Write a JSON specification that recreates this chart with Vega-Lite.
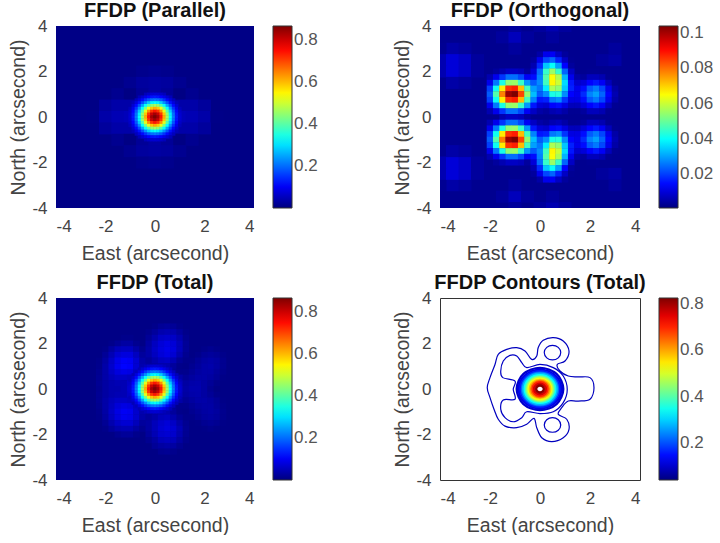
{"$schema":"https://vega.github.io/schema/vega-lite/v6.json","background":"white","padding":{"left":8,"top":1,"right":0,"bottom":0},"bounds":"flush","columns":2,"spacing":{"row":90,"column":186},
"config":{"font":"Liberation Sans","view":{"stroke":null},"axisX":{"labelPadding":10,"titlePadding":10},"axisY":{"labelPadding":9,"titlePadding":3.5},"axis":{"grid":false,"domain":false,"ticks":false,"labelFont":"Liberation Sans","titleFont":"Liberation Sans","labelFontSize":17,"titleFontSize":19.5,"titleFontWeight":"normal","labelColor":"#444444","titleColor":"#444444","titleAnchor":"middle","values":[-4,-2,0,2,4],"labelExpr":"''+datum.value"},"title":{"font":"Liberation Sans","fontSize":20,"fontWeight":"bold","color":"#111111","offset":-4},"legend":{"gradientLength":182,"gradientThickness":19,"gradientStrokeColor":"#333333","gradientStrokeWidth":1,"labelFont":"Liberation Sans","labelFontSize":17,"labelColor":"#555555","labelOffset":8,"offset":19,"padding":0,"title":null}},
"datasets":{
"core":[
{"x":-0.375,"y":1,"v":0.05},{"x":-0.25,"y":1,"v":0.061},{"x":-0.125,"y":1,"v":0.069},{"x":0,"y":1,"v":0.071},{"x":0.125,"y":1,"v":0.069},{"x":0.25,"y":1,"v":0.061},{"x":0.375,"y":1,"v":0.05},
{"x":-0.625,"y":0.875,"v":0.048},{"x":-0.5,"y":0.875,"v":0.069},{"x":-0.375,"y":0.875,"v":0.09},{"x":-0.25,"y":0.875,"v":0.11},{"x":-0.125,"y":0.875,"v":0.123},{"x":0,"y":0.875,"v":0.128},{"x":0.125,"y":0.875,"v":0.123},{"x":0.25,"y":0.875,"v":0.11},{"x":0.375,"y":0.875,"v":0.09},{"x":0.5,"y":0.875,"v":0.069},{"x":0.625,"y":0.875,"v":0.048},
{"x":-0.75,"y":0.75,"v":0.052},{"x":-0.625,"y":0.75,"v":0.08},{"x":-0.5,"y":0.75,"v":0.114},{"x":-0.375,"y":0.75,"v":0.15},{"x":-0.25,"y":0.75,"v":0.183},{"x":-0.125,"y":0.75,"v":0.205},{"x":0,"y":0.75,"v":0.213},{"x":0.125,"y":0.75,"v":0.205},{"x":0.25,"y":0.75,"v":0.183},{"x":0.375,"y":0.75,"v":0.15},{"x":0.5,"y":0.75,"v":0.114},{"x":0.625,"y":0.75,"v":0.08},{"x":0.75,"y":0.75,"v":0.052},
{"x":-0.875,"y":0.625,"v":0.048},{"x":-0.75,"y":0.625,"v":0.08},{"x":-0.625,"y":0.625,"v":0.123},{"x":-0.5,"y":0.625,"v":0.176},{"x":-0.375,"y":0.625,"v":0.23},{"x":-0.25,"y":0.625,"v":0.281},{"x":-0.125,"y":0.625,"v":0.315},{"x":0,"y":0.625,"v":0.328},{"x":0.125,"y":0.625,"v":0.315},{"x":0.25,"y":0.625,"v":0.281},{"x":0.375,"y":0.625,"v":0.23},{"x":0.5,"y":0.625,"v":0.176},{"x":0.625,"y":0.625,"v":0.123},{"x":0.75,"y":0.625,"v":0.08},{"x":0.875,"y":0.625,"v":0.048},
{"x":-0.875,"y":0.5,"v":0.069},{"x":-0.75,"y":0.5,"v":0.114},{"x":-0.625,"y":0.5,"v":0.176},{"x":-0.5,"y":0.5,"v":0.249},{"x":-0.375,"y":0.5,"v":0.328},{"x":-0.25,"y":0.5,"v":0.398},{"x":-0.125,"y":0.5,"v":0.448},{"x":0,"y":0.5,"v":0.466},{"x":0.125,"y":0.5,"v":0.448},{"x":0.25,"y":0.5,"v":0.398},{"x":0.375,"y":0.5,"v":0.328},{"x":0.5,"y":0.5,"v":0.249},{"x":0.625,"y":0.5,"v":0.176},{"x":0.75,"y":0.5,"v":0.114},{"x":0.875,"y":0.5,"v":0.069},
{"x":-1,"y":0.375,"v":0.05},{"x":-0.875,"y":0.375,"v":0.09},{"x":-0.75,"y":0.375,"v":0.15},{"x":-0.625,"y":0.375,"v":0.23},{"x":-0.5,"y":0.375,"v":0.328},{"x":-0.375,"y":0.375,"v":0.431},{"x":-0.25,"y":0.375,"v":0.523},{"x":-0.125,"y":0.375,"v":0.588},{"x":0,"y":0.375,"v":0.612},{"x":0.125,"y":0.375,"v":0.588},{"x":0.25,"y":0.375,"v":0.523},{"x":0.375,"y":0.375,"v":0.431},{"x":0.5,"y":0.375,"v":0.328},{"x":0.625,"y":0.375,"v":0.23},{"x":0.75,"y":0.375,"v":0.15},{"x":0.875,"y":0.375,"v":0.09},{"x":1,"y":0.375,"v":0.05},
{"x":-1,"y":0.25,"v":0.061},{"x":-0.875,"y":0.25,"v":0.11},{"x":-0.75,"y":0.25,"v":0.183},{"x":-0.625,"y":0.25,"v":0.281},{"x":-0.5,"y":0.25,"v":0.398},{"x":-0.375,"y":0.25,"v":0.523},{"x":-0.25,"y":0.25,"v":0.636},{"x":-0.125,"y":0.25,"v":0.714},{"x":0,"y":0.25,"v":0.743},{"x":0.125,"y":0.25,"v":0.714},{"x":0.25,"y":0.25,"v":0.636},{"x":0.375,"y":0.25,"v":0.523},{"x":0.5,"y":0.25,"v":0.398},{"x":0.625,"y":0.25,"v":0.281},{"x":0.75,"y":0.25,"v":0.183},{"x":0.875,"y":0.25,"v":0.11},{"x":1,"y":0.25,"v":0.061},
{"x":-1,"y":0.125,"v":0.069},{"x":-0.875,"y":0.125,"v":0.123},{"x":-0.75,"y":0.125,"v":0.205},{"x":-0.625,"y":0.125,"v":0.315},{"x":-0.5,"y":0.125,"v":0.448},{"x":-0.375,"y":0.125,"v":0.588},{"x":-0.25,"y":0.125,"v":0.714},{"x":-0.125,"y":0.125,"v":0.804},{"x":0,"y":0.125,"v":0.837},{"x":0.125,"y":0.125,"v":0.804},{"x":0.25,"y":0.125,"v":0.714},{"x":0.375,"y":0.125,"v":0.588},{"x":0.5,"y":0.125,"v":0.448},{"x":0.625,"y":0.125,"v":0.315},{"x":0.75,"y":0.125,"v":0.205},{"x":0.875,"y":0.125,"v":0.123},{"x":1,"y":0.125,"v":0.069},
{"x":-1,"y":0,"v":0.071},{"x":-0.875,"y":0,"v":0.128},{"x":-0.75,"y":0,"v":0.213},{"x":-0.625,"y":0,"v":0.328},{"x":-0.5,"y":0,"v":0.466},{"x":-0.375,"y":0,"v":0.612},{"x":-0.25,"y":0,"v":0.743},{"x":-0.125,"y":0,"v":0.837},{"x":0,"y":0,"v":0.868},{"x":0.125,"y":0,"v":0.837},{"x":0.25,"y":0,"v":0.743},{"x":0.375,"y":0,"v":0.612},{"x":0.5,"y":0,"v":0.466},{"x":0.625,"y":0,"v":0.328},{"x":0.75,"y":0,"v":0.213},{"x":0.875,"y":0,"v":0.128},{"x":1,"y":0,"v":0.071},
{"x":-1,"y":-0.125,"v":0.069},{"x":-0.875,"y":-0.125,"v":0.123},{"x":-0.75,"y":-0.125,"v":0.205},{"x":-0.625,"y":-0.125,"v":0.315},{"x":-0.5,"y":-0.125,"v":0.448},{"x":-0.375,"y":-0.125,"v":0.588},{"x":-0.25,"y":-0.125,"v":0.714},{"x":-0.125,"y":-0.125,"v":0.804},{"x":0,"y":-0.125,"v":0.837},{"x":0.125,"y":-0.125,"v":0.804},{"x":0.25,"y":-0.125,"v":0.714},{"x":0.375,"y":-0.125,"v":0.588},{"x":0.5,"y":-0.125,"v":0.448},{"x":0.625,"y":-0.125,"v":0.315},{"x":0.75,"y":-0.125,"v":0.205},{"x":0.875,"y":-0.125,"v":0.123},{"x":1,"y":-0.125,"v":0.069},
{"x":-1,"y":-0.25,"v":0.061},{"x":-0.875,"y":-0.25,"v":0.11},{"x":-0.75,"y":-0.25,"v":0.183},{"x":-0.625,"y":-0.25,"v":0.281},{"x":-0.5,"y":-0.25,"v":0.398},{"x":-0.375,"y":-0.25,"v":0.523},{"x":-0.25,"y":-0.25,"v":0.636},{"x":-0.125,"y":-0.25,"v":0.714},{"x":0,"y":-0.25,"v":0.743},{"x":0.125,"y":-0.25,"v":0.714},{"x":0.25,"y":-0.25,"v":0.636},{"x":0.375,"y":-0.25,"v":0.523},{"x":0.5,"y":-0.25,"v":0.398},{"x":0.625,"y":-0.25,"v":0.281},{"x":0.75,"y":-0.25,"v":0.183},{"x":0.875,"y":-0.25,"v":0.11},{"x":1,"y":-0.25,"v":0.061},
{"x":-1,"y":-0.375,"v":0.05},{"x":-0.875,"y":-0.375,"v":0.09},{"x":-0.75,"y":-0.375,"v":0.15},{"x":-0.625,"y":-0.375,"v":0.23},{"x":-0.5,"y":-0.375,"v":0.328},{"x":-0.375,"y":-0.375,"v":0.431},{"x":-0.25,"y":-0.375,"v":0.523},{"x":-0.125,"y":-0.375,"v":0.588},{"x":0,"y":-0.375,"v":0.612},{"x":0.125,"y":-0.375,"v":0.588},{"x":0.25,"y":-0.375,"v":0.523},{"x":0.375,"y":-0.375,"v":0.431},{"x":0.5,"y":-0.375,"v":0.328},{"x":0.625,"y":-0.375,"v":0.23},{"x":0.75,"y":-0.375,"v":0.15},{"x":0.875,"y":-0.375,"v":0.09},{"x":1,"y":-0.375,"v":0.05},
{"x":-0.875,"y":-0.5,"v":0.069},{"x":-0.75,"y":-0.5,"v":0.114},{"x":-0.625,"y":-0.5,"v":0.176},{"x":-0.5,"y":-0.5,"v":0.249},{"x":-0.375,"y":-0.5,"v":0.328},{"x":-0.25,"y":-0.5,"v":0.398},{"x":-0.125,"y":-0.5,"v":0.448},{"x":0,"y":-0.5,"v":0.466},{"x":0.125,"y":-0.5,"v":0.448},{"x":0.25,"y":-0.5,"v":0.398},{"x":0.375,"y":-0.5,"v":0.328},{"x":0.5,"y":-0.5,"v":0.249},{"x":0.625,"y":-0.5,"v":0.176},{"x":0.75,"y":-0.5,"v":0.114},{"x":0.875,"y":-0.5,"v":0.069},
{"x":-0.875,"y":-0.625,"v":0.048},{"x":-0.75,"y":-0.625,"v":0.08},{"x":-0.625,"y":-0.625,"v":0.123},{"x":-0.5,"y":-0.625,"v":0.176},{"x":-0.375,"y":-0.625,"v":0.23},{"x":-0.25,"y":-0.625,"v":0.281},{"x":-0.125,"y":-0.625,"v":0.315},{"x":0,"y":-0.625,"v":0.328},{"x":0.125,"y":-0.625,"v":0.315},{"x":0.25,"y":-0.625,"v":0.281},{"x":0.375,"y":-0.625,"v":0.23},{"x":0.5,"y":-0.625,"v":0.176},{"x":0.625,"y":-0.625,"v":0.123},{"x":0.75,"y":-0.625,"v":0.08},{"x":0.875,"y":-0.625,"v":0.048},
{"x":-0.75,"y":-0.75,"v":0.052},{"x":-0.625,"y":-0.75,"v":0.08},{"x":-0.5,"y":-0.75,"v":0.114},{"x":-0.375,"y":-0.75,"v":0.15},{"x":-0.25,"y":-0.75,"v":0.183},{"x":-0.125,"y":-0.75,"v":0.205},{"x":0,"y":-0.75,"v":0.213},{"x":0.125,"y":-0.75,"v":0.205},{"x":0.25,"y":-0.75,"v":0.183},{"x":0.375,"y":-0.75,"v":0.15},{"x":0.5,"y":-0.75,"v":0.114},{"x":0.625,"y":-0.75,"v":0.08},{"x":0.75,"y":-0.75,"v":0.052},
{"x":-0.625,"y":-0.875,"v":0.048},{"x":-0.5,"y":-0.875,"v":0.069},{"x":-0.375,"y":-0.875,"v":0.09},{"x":-0.25,"y":-0.875,"v":0.11},{"x":-0.125,"y":-0.875,"v":0.123},{"x":0,"y":-0.875,"v":0.128},{"x":0.125,"y":-0.875,"v":0.123},{"x":0.25,"y":-0.875,"v":0.11},{"x":0.375,"y":-0.875,"v":0.09},{"x":0.5,"y":-0.875,"v":0.069},{"x":0.625,"y":-0.875,"v":0.048},
{"x":-0.375,"y":-1,"v":0.05},{"x":-0.25,"y":-1,"v":0.061},{"x":-0.125,"y":-1,"v":0.069},{"x":0,"y":-1,"v":0.071},{"x":0.125,"y":-1,"v":0.069},{"x":0.25,"y":-1,"v":0.061},{"x":0.375,"y":-1,"v":0.05}],
"parallelOuter":[
{"x":-0.5,"y":2,"v":0.012},{"x":0,"y":2,"v":0.015},{"x":0.5,"y":2,"v":0.012},
{"x":-1,"y":1.5,"v":0.015},{"x":-0.5,"y":1.5,"v":0.026},{"x":0,"y":1.5,"v":0.03},{"x":0.5,"y":1.5,"v":0.026},{"x":1,"y":1.5,"v":0.015},
{"x":-1.5,"y":1,"v":0.014},{"x":-1,"y":1,"v":0.004},{"x":-0.5,"y":1,"v":0.02},{"x":0,"y":1,"v":0.03},{"x":0.5,"y":1,"v":0.02},{"x":1,"y":1,"v":0.004},{"x":1.5,"y":1,"v":0.014},
{"x":-2,"y":0.5,"v":0.025},{"x":-1.5,"y":0.5,"v":0.035},{"x":-1,"y":0.5,"v":0.035},{"x":1,"y":0.5,"v":0.035},{"x":1.5,"y":0.5,"v":0.035},{"x":2,"y":0.5,"v":0.025},
{"x":-2.5,"y":0,"v":0.008},{"x":-2,"y":0,"v":0.035},{"x":-1.5,"y":0,"v":0.045},{"x":-1,"y":0,"v":0.05},{"x":1,"y":0,"v":0.05},{"x":1.5,"y":0,"v":0.045},{"x":2,"y":0,"v":0.035},{"x":2.5,"y":0,"v":0.008},
{"x":-2,"y":-0.5,"v":0.025},{"x":-1.5,"y":-0.5,"v":0.035},{"x":-1,"y":-0.5,"v":0.035},{"x":1,"y":-0.5,"v":0.035},{"x":1.5,"y":-0.5,"v":0.035},{"x":2,"y":-0.5,"v":0.025},
{"x":-1.5,"y":-1,"v":0.014},{"x":-1,"y":-1,"v":0.004},{"x":-0.5,"y":-1,"v":0.02},{"x":0,"y":-1,"v":0.03},{"x":0.5,"y":-1,"v":0.02},{"x":1,"y":-1,"v":0.004},{"x":1.5,"y":-1,"v":0.014},
{"x":-1,"y":-1.5,"v":0.015},{"x":-0.5,"y":-1.5,"v":0.026},{"x":0,"y":-1.5,"v":0.03},{"x":0.5,"y":-1.5,"v":0.026},{"x":1,"y":-1.5,"v":0.015},
{"x":-0.5,"y":-2,"v":0.012},{"x":0,"y":-2,"v":0.015},{"x":0.5,"y":-2,"v":0.012}],
"orthFaint":[
{"x":-3.5,"y":3,"v":0.005},{"x":-3,"y":3,"v":0.004},{"x":-4,"y":3,"v":0.003},{"x":-4,"y":2.5,"v":0.006},{"x":-3.5,"y":2.5,"v":0.01},{"x":-3,"y":2.5,"v":0.008},{"x":-2.5,"y":2.5,"v":0.004},{"x":-4,"y":2,"v":0.006},{"x":-3.5,"y":2,"v":0.01},{"x":-3,"y":2,"v":0.008},{"x":-2.5,"y":2,"v":0.004},{"x":-3.5,"y":1.5,"v":0.005},{"x":-3,"y":1.5,"v":0.004},
{"x":-3.5,"y":-3,"v":0.005},{"x":-3,"y":-3,"v":0.004},{"x":-4,"y":-3,"v":0.003},{"x":-4,"y":-2.5,"v":0.006},{"x":-3.5,"y":-2.5,"v":0.01},{"x":-3,"y":-2.5,"v":0.008},{"x":-2.5,"y":-2.5,"v":0.004},{"x":-4,"y":-2,"v":0.006},{"x":-3.5,"y":-2,"v":0.01},{"x":-3,"y":-2,"v":0.008},{"x":-2.5,"y":-2,"v":0.004},{"x":-3.5,"y":-1.5,"v":0.005},{"x":-3,"y":-1.5,"v":0.004},
{"x":-1.5,"y":3.5,"v":0.004},{"x":-1,"y":3.5,"v":0.007},{"x":-0.5,"y":3.5,"v":0.004},{"x":-1,"y":3,"v":0.004},{"x":-1,"y":4,"v":0.004},{"x":0,"y":4,"v":0.004},{"x":0.5,"y":4,"v":0.006},{"x":1,"y":4,"v":0.004},{"x":0.5,"y":3.5,"v":0.004},{"x":2.5,"y":2.5,"v":0.004},{"x":3,"y":2.5,"v":0.005},{"x":3,"y":3,"v":0.004},
{"x":-1.5,"y":-3.5,"v":0.004},{"x":-1,"y":-3.5,"v":0.007},{"x":-0.5,"y":-3.5,"v":0.004},{"x":-1,"y":-3,"v":0.004},{"x":-1,"y":-4,"v":0.004},{"x":0,"y":-4,"v":0.004},{"x":0.5,"y":-4,"v":0.006},{"x":1,"y":-4,"v":0.004},{"x":0.5,"y":-3.5,"v":0.004},{"x":2.5,"y":-2.5,"v":0.004},{"x":3,"y":-2.5,"v":0.005},{"x":3,"y":-3,"v":0.004}],
"orth":[
{"x":0,"y":2.75,"v":0.005},{"x":0.25,"y":2.75,"v":0.012},{"x":0.5,"y":2.75,"v":0.013},{"x":0.75,"y":2.75,"v":0.008},{"x":1,"y":2.75,"v":0.004},
{"x":-0.25,"y":2.5,"v":0.004},{"x":0,"y":2.5,"v":0.012},{"x":0.25,"y":2.5,"v":0.021},{"x":0.5,"y":2.5,"v":0.024},{"x":0.75,"y":2.5,"v":0.017},{"x":1,"y":2.5,"v":0.008},{"x":1.25,"y":2.5,"v":0.003},
{"x":-0.25,"y":2.25,"v":0.006},{"x":0,"y":2.25,"v":0.018},{"x":0.25,"y":2.25,"v":0.034},{"x":0.5,"y":2.25,"v":0.04},{"x":0.75,"y":2.25,"v":0.03},{"x":1,"y":2.25,"v":0.014},{"x":1.25,"y":2.25,"v":0.004},
{"x":-1.75,"y":2,"v":0.004},{"x":-1.5,"y":2,"v":0.006},{"x":-1.25,"y":2,"v":0.008},{"x":-1,"y":2,"v":0.008},{"x":-0.75,"y":2,"v":0.007},{"x":-0.5,"y":2,"v":0.004},{"x":-0.25,"y":2,"v":0.01},{"x":0,"y":2,"v":0.025},{"x":0.25,"y":2,"v":0.045},{"x":0.5,"y":2,"v":0.055},{"x":0.75,"y":2,"v":0.045},{"x":1,"y":2,"v":0.024},{"x":1.25,"y":2,"v":0.008},{"x":2,"y":2,"v":0.003},{"x":2.25,"y":2,"v":0.003},
{"x":-2,"y":1.75,"v":0.006},{"x":-1.75,"y":1.75,"v":0.012},{"x":-1.5,"y":1.75,"v":0.019},{"x":-1.25,"y":1.75,"v":0.025},{"x":-1,"y":1.75,"v":0.025},{"x":-0.75,"y":1.75,"v":0.021},{"x":-0.5,"y":1.75,"v":0.013},{"x":-0.25,"y":1.75,"v":0.015},{"x":0,"y":1.75,"v":0.027},{"x":0.25,"y":1.75,"v":0.048},{"x":0.5,"y":1.75,"v":0.065},{"x":0.75,"y":1.75,"v":0.057},{"x":1,"y":1.75,"v":0.032},{"x":1.25,"y":1.75,"v":0.012},{"x":1.5,"y":1.75,"v":0.005},{"x":1.75,"y":1.75,"v":0.004},{"x":2,"y":1.75,"v":0.007},{"x":2.25,"y":1.75,"v":0.007},{"x":2.5,"y":1.75,"v":0.006},{"x":2.75,"y":1.75,"v":0.003},
{"x":-2,"y":1.5,"v":0.012},{"x":-1.75,"y":1.5,"v":0.026},{"x":-1.5,"y":1.5,"v":0.042},{"x":-1.25,"y":1.5,"v":0.054},{"x":-1,"y":1.5,"v":0.055},{"x":-0.75,"y":1.5,"v":0.045},{"x":-0.5,"y":1.5,"v":0.029},{"x":-0.25,"y":1.5,"v":0.023},{"x":0,"y":1.5,"v":0.028},{"x":0.25,"y":1.5,"v":0.046},{"x":0.5,"y":1.5,"v":0.066},{"x":0.75,"y":1.5,"v":0.06},{"x":1,"y":1.5,"v":0.036},{"x":1.25,"y":1.5,"v":0.016},{"x":1.5,"y":1.5,"v":0.009},{"x":1.75,"y":1.5,"v":0.01},{"x":2,"y":1.5,"v":0.014},{"x":2.25,"y":1.5,"v":0.016},{"x":2.5,"y":1.5,"v":0.013},{"x":2.75,"y":1.5,"v":0.007},{"x":3,"y":1.5,"v":0.003},
{"x":-2,"y":1.25,"v":0.02},{"x":-1.75,"y":1.25,"v":0.041},{"x":-1.5,"y":1.25,"v":0.067},{"x":-1.25,"y":1.25,"v":0.086},{"x":-1,"y":1.25,"v":0.088},{"x":-0.75,"y":1.25,"v":0.072},{"x":-0.5,"y":1.25,"v":0.046},{"x":-0.25,"y":1.25,"v":0.03},{"x":0,"y":1.25,"v":0.026},{"x":0.25,"y":1.25,"v":0.038},{"x":0.5,"y":1.25,"v":0.057},{"x":0.75,"y":1.25,"v":0.054},{"x":1,"y":1.25,"v":0.034},{"x":1.25,"y":1.25,"v":0.017},{"x":1.5,"y":1.25,"v":0.012},{"x":1.75,"y":1.25,"v":0.015},{"x":2,"y":1.25,"v":0.023},{"x":2.25,"y":1.25,"v":0.026},{"x":2.5,"y":1.25,"v":0.021},{"x":2.75,"y":1.25,"v":0.012},{"x":3,"y":1.25,"v":0.005},
{"x":-2,"y":1,"v":0.023},{"x":-1.75,"y":1,"v":0.048},{"x":-1.5,"y":1,"v":0.078},{"x":-1.25,"y":1,"v":0.101},{"x":-1,"y":1,"v":0.104},{"x":-0.75,"y":1,"v":0.084},{"x":-0.5,"y":1,"v":0.054},{"x":-0.25,"y":1,"v":0.033},{"x":0,"y":1,"v":0.023},{"x":0.25,"y":1,"v":0.028},{"x":0.5,"y":1,"v":0.042},{"x":0.75,"y":1,"v":0.043},{"x":1,"y":1,"v":0.028},{"x":1.25,"y":1,"v":0.014},{"x":1.5,"y":1,"v":0.012},{"x":1.75,"y":1,"v":0.018},{"x":2,"y":1,"v":0.027},{"x":2.25,"y":1,"v":0.03},{"x":2.5,"y":1,"v":0.024},{"x":2.75,"y":1,"v":0.014},{"x":3,"y":1,"v":0.006},
{"x":-2,"y":0.75,"v":0.02},{"x":-1.75,"y":0.75,"v":0.041},{"x":-1.5,"y":0.75,"v":0.067},{"x":-1.25,"y":0.75,"v":0.086},{"x":-1,"y":0.75,"v":0.088},{"x":-0.75,"y":0.75,"v":0.072},{"x":-0.5,"y":0.75,"v":0.046},{"x":-0.25,"y":0.75,"v":0.027},{"x":0,"y":0.75,"v":0.016},{"x":0.25,"y":0.75,"v":0.017},{"x":0.5,"y":0.75,"v":0.026},{"x":0.75,"y":0.75,"v":0.028},{"x":1,"y":0.75,"v":0.019},{"x":1.25,"y":0.75,"v":0.011},{"x":1.5,"y":0.75,"v":0.011},{"x":1.75,"y":0.75,"v":0.015},{"x":2,"y":0.75,"v":0.023},{"x":2.25,"y":0.75,"v":0.026},{"x":2.5,"y":0.75,"v":0.021},{"x":2.75,"y":0.75,"v":0.012},{"x":3,"y":0.75,"v":0.005},
{"x":-2,"y":0.5,"v":0.012},{"x":-1.75,"y":0.5,"v":0.026},{"x":-1.5,"y":0.5,"v":0.042},{"x":-1.25,"y":0.5,"v":0.054},{"x":-1,"y":0.5,"v":0.055},{"x":-0.75,"y":0.5,"v":0.045},{"x":-0.5,"y":0.5,"v":0.029},{"x":-0.25,"y":0.5,"v":0.016},{"x":0,"y":0.5,"v":0.01},{"x":0.25,"y":0.5,"v":0.009},{"x":0.5,"y":0.5,"v":0.014},{"x":0.75,"y":0.5,"v":0.015},{"x":1,"y":0.5,"v":0.011},{"x":1.25,"y":0.5,"v":0.007},{"x":1.5,"y":0.5,"v":0.007},{"x":1.75,"y":0.5,"v":0.01},{"x":2,"y":0.5,"v":0.014},{"x":2.25,"y":0.5,"v":0.016},{"x":2.5,"y":0.5,"v":0.013},{"x":2.75,"y":0.5,"v":0.007},{"x":3,"y":0.5,"v":0.003},
{"x":-2,"y":0.25,"v":0.006},{"x":-1.75,"y":0.25,"v":0.012},{"x":-1.5,"y":0.25,"v":0.019},{"x":-1.25,"y":0.25,"v":0.025},{"x":-1,"y":0.25,"v":0.025},{"x":-0.75,"y":0.25,"v":0.021},{"x":-0.5,"y":0.25,"v":0.013},{"x":-0.25,"y":0.25,"v":0.008},{"x":0,"y":0.25,"v":0.005},{"x":0.25,"y":0.25,"v":0.004},{"x":0.5,"y":0.25,"v":0.006},{"x":0.75,"y":0.25,"v":0.007},{"x":1,"y":0.25,"v":0.005},{"x":1.25,"y":0.25,"v":0.003},{"x":1.5,"y":0.25,"v":0.003},{"x":1.75,"y":0.25,"v":0.004},{"x":2,"y":0.25,"v":0.007},{"x":2.25,"y":0.25,"v":0.007},{"x":2.5,"y":0.25,"v":0.006},{"x":2.75,"y":0.25,"v":0.003},
{"x":-1.5,"y":0,"v":0.006},{"x":-1.25,"y":0,"v":0.008},{"x":-1,"y":0,"v":0.008},{"x":-0.75,"y":0,"v":0.007},{"x":-0.5,"y":0,"v":0.004},
{"x":-2,"y":-0.25,"v":0.006},{"x":-1.75,"y":-0.25,"v":0.012},{"x":-1.5,"y":-0.25,"v":0.019},{"x":-1.25,"y":-0.25,"v":0.025},{"x":-1,"y":-0.25,"v":0.025},{"x":-0.75,"y":-0.25,"v":0.021},{"x":-0.5,"y":-0.25,"v":0.013},{"x":-0.25,"y":-0.25,"v":0.008},{"x":0,"y":-0.25,"v":0.005},{"x":0.25,"y":-0.25,"v":0.004},{"x":0.5,"y":-0.25,"v":0.006},{"x":0.75,"y":-0.25,"v":0.007},{"x":1,"y":-0.25,"v":0.005},{"x":1.25,"y":-0.25,"v":0.003},{"x":1.5,"y":-0.25,"v":0.003},{"x":1.75,"y":-0.25,"v":0.004},{"x":2,"y":-0.25,"v":0.007},{"x":2.25,"y":-0.25,"v":0.007},{"x":2.5,"y":-0.25,"v":0.006},{"x":2.75,"y":-0.25,"v":0.003},
{"x":-2,"y":-0.5,"v":0.012},{"x":-1.75,"y":-0.5,"v":0.026},{"x":-1.5,"y":-0.5,"v":0.042},{"x":-1.25,"y":-0.5,"v":0.054},{"x":-1,"y":-0.5,"v":0.055},{"x":-0.75,"y":-0.5,"v":0.045},{"x":-0.5,"y":-0.5,"v":0.029},{"x":-0.25,"y":-0.5,"v":0.016},{"x":0,"y":-0.5,"v":0.01},{"x":0.25,"y":-0.5,"v":0.009},{"x":0.5,"y":-0.5,"v":0.014},{"x":0.75,"y":-0.5,"v":0.015},{"x":1,"y":-0.5,"v":0.011},{"x":1.25,"y":-0.5,"v":0.007},{"x":1.5,"y":-0.5,"v":0.007},{"x":1.75,"y":-0.5,"v":0.01},{"x":2,"y":-0.5,"v":0.014},{"x":2.25,"y":-0.5,"v":0.016},{"x":2.5,"y":-0.5,"v":0.013},{"x":2.75,"y":-0.5,"v":0.007},{"x":3,"y":-0.5,"v":0.003},
{"x":-2,"y":-0.75,"v":0.02},{"x":-1.75,"y":-0.75,"v":0.041},{"x":-1.5,"y":-0.75,"v":0.067},{"x":-1.25,"y":-0.75,"v":0.086},{"x":-1,"y":-0.75,"v":0.088},{"x":-0.75,"y":-0.75,"v":0.072},{"x":-0.5,"y":-0.75,"v":0.046},{"x":-0.25,"y":-0.75,"v":0.027},{"x":0,"y":-0.75,"v":0.016},{"x":0.25,"y":-0.75,"v":0.017},{"x":0.5,"y":-0.75,"v":0.026},{"x":0.75,"y":-0.75,"v":0.028},{"x":1,"y":-0.75,"v":0.019},{"x":1.25,"y":-0.75,"v":0.011},{"x":1.5,"y":-0.75,"v":0.011},{"x":1.75,"y":-0.75,"v":0.015},{"x":2,"y":-0.75,"v":0.023},{"x":2.25,"y":-0.75,"v":0.026},{"x":2.5,"y":-0.75,"v":0.021},{"x":2.75,"y":-0.75,"v":0.012},{"x":3,"y":-0.75,"v":0.005},
{"x":-2,"y":-1,"v":0.023},{"x":-1.75,"y":-1,"v":0.048},{"x":-1.5,"y":-1,"v":0.078},{"x":-1.25,"y":-1,"v":0.101},{"x":-1,"y":-1,"v":0.104},{"x":-0.75,"y":-1,"v":0.084},{"x":-0.5,"y":-1,"v":0.054},{"x":-0.25,"y":-1,"v":0.033},{"x":0,"y":-1,"v":0.023},{"x":0.25,"y":-1,"v":0.028},{"x":0.5,"y":-1,"v":0.042},{"x":0.75,"y":-1,"v":0.043},{"x":1,"y":-1,"v":0.028},{"x":1.25,"y":-1,"v":0.014},{"x":1.5,"y":-1,"v":0.012},{"x":1.75,"y":-1,"v":0.018},{"x":2,"y":-1,"v":0.027},{"x":2.25,"y":-1,"v":0.03},{"x":2.5,"y":-1,"v":0.024},{"x":2.75,"y":-1,"v":0.014},{"x":3,"y":-1,"v":0.006},
{"x":-2,"y":-1.25,"v":0.02},{"x":-1.75,"y":-1.25,"v":0.041},{"x":-1.5,"y":-1.25,"v":0.067},{"x":-1.25,"y":-1.25,"v":0.086},{"x":-1,"y":-1.25,"v":0.088},{"x":-0.75,"y":-1.25,"v":0.072},{"x":-0.5,"y":-1.25,"v":0.046},{"x":-0.25,"y":-1.25,"v":0.03},{"x":0,"y":-1.25,"v":0.026},{"x":0.25,"y":-1.25,"v":0.038},{"x":0.5,"y":-1.25,"v":0.057},{"x":0.75,"y":-1.25,"v":0.054},{"x":1,"y":-1.25,"v":0.034},{"x":1.25,"y":-1.25,"v":0.017},{"x":1.5,"y":-1.25,"v":0.012},{"x":1.75,"y":-1.25,"v":0.015},{"x":2,"y":-1.25,"v":0.023},{"x":2.25,"y":-1.25,"v":0.026},{"x":2.5,"y":-1.25,"v":0.021},{"x":2.75,"y":-1.25,"v":0.012},{"x":3,"y":-1.25,"v":0.005},
{"x":-2,"y":-1.5,"v":0.012},{"x":-1.75,"y":-1.5,"v":0.026},{"x":-1.5,"y":-1.5,"v":0.042},{"x":-1.25,"y":-1.5,"v":0.054},{"x":-1,"y":-1.5,"v":0.055},{"x":-0.75,"y":-1.5,"v":0.045},{"x":-0.5,"y":-1.5,"v":0.029},{"x":-0.25,"y":-1.5,"v":0.023},{"x":0,"y":-1.5,"v":0.028},{"x":0.25,"y":-1.5,"v":0.046},{"x":0.5,"y":-1.5,"v":0.066},{"x":0.75,"y":-1.5,"v":0.06},{"x":1,"y":-1.5,"v":0.036},{"x":1.25,"y":-1.5,"v":0.016},{"x":1.5,"y":-1.5,"v":0.009},{"x":1.75,"y":-1.5,"v":0.01},{"x":2,"y":-1.5,"v":0.014},{"x":2.25,"y":-1.5,"v":0.016},{"x":2.5,"y":-1.5,"v":0.013},{"x":2.75,"y":-1.5,"v":0.007},{"x":3,"y":-1.5,"v":0.003},
{"x":-2,"y":-1.75,"v":0.006},{"x":-1.75,"y":-1.75,"v":0.012},{"x":-1.5,"y":-1.75,"v":0.019},{"x":-1.25,"y":-1.75,"v":0.025},{"x":-1,"y":-1.75,"v":0.025},{"x":-0.75,"y":-1.75,"v":0.021},{"x":-0.5,"y":-1.75,"v":0.013},{"x":-0.25,"y":-1.75,"v":0.015},{"x":0,"y":-1.75,"v":0.027},{"x":0.25,"y":-1.75,"v":0.048},{"x":0.5,"y":-1.75,"v":0.065},{"x":0.75,"y":-1.75,"v":0.057},{"x":1,"y":-1.75,"v":0.032},{"x":1.25,"y":-1.75,"v":0.012},{"x":1.5,"y":-1.75,"v":0.005},{"x":1.75,"y":-1.75,"v":0.004},{"x":2,"y":-1.75,"v":0.007},{"x":2.25,"y":-1.75,"v":0.007},{"x":2.5,"y":-1.75,"v":0.006},{"x":2.75,"y":-1.75,"v":0.003},
{"x":-1.75,"y":-2,"v":0.004},{"x":-1.5,"y":-2,"v":0.006},{"x":-1.25,"y":-2,"v":0.008},{"x":-1,"y":-2,"v":0.008},{"x":-0.75,"y":-2,"v":0.007},{"x":-0.5,"y":-2,"v":0.004},{"x":-0.25,"y":-2,"v":0.01},{"x":0,"y":-2,"v":0.025},{"x":0.25,"y":-2,"v":0.045},{"x":0.5,"y":-2,"v":0.055},{"x":0.75,"y":-2,"v":0.045},{"x":1,"y":-2,"v":0.024},{"x":1.25,"y":-2,"v":0.008},{"x":2,"y":-2,"v":0.003},{"x":2.25,"y":-2,"v":0.003},
{"x":-0.25,"y":-2.25,"v":0.006},{"x":0,"y":-2.25,"v":0.018},{"x":0.25,"y":-2.25,"v":0.034},{"x":0.5,"y":-2.25,"v":0.04},{"x":0.75,"y":-2.25,"v":0.03},{"x":1,"y":-2.25,"v":0.014},{"x":1.25,"y":-2.25,"v":0.004},
{"x":-0.25,"y":-2.5,"v":0.004},{"x":0,"y":-2.5,"v":0.012},{"x":0.25,"y":-2.5,"v":0.021},{"x":0.5,"y":-2.5,"v":0.024},{"x":0.75,"y":-2.5,"v":0.017},{"x":1,"y":-2.5,"v":0.008},{"x":1.25,"y":-2.5,"v":0.003},
{"x":0,"y":-2.75,"v":0.005},{"x":0.25,"y":-2.75,"v":0.012},{"x":0.5,"y":-2.75,"v":0.013},{"x":0.75,"y":-2.75,"v":0.008},{"x":1,"y":-2.75,"v":0.004}],
"totalOuter":[
{"x":0,"y":2.75,"v":0.01},{"x":0.25,"y":2.75,"v":0.02},{"x":0.5,"y":2.75,"v":0.025},{"x":0.75,"y":2.75,"v":0.02},{"x":1,"y":2.75,"v":0.01},
{"x":-0.25,"y":2.5,"v":0.012},{"x":0,"y":2.5,"v":0.025},{"x":0.25,"y":2.5,"v":0.04},{"x":0.5,"y":2.5,"v":0.045},{"x":0.75,"y":2.5,"v":0.04},{"x":1,"y":2.5,"v":0.025},{"x":1.25,"y":2.5,"v":0.01},
{"x":-1.25,"y":2.25,"v":0.01},{"x":-1,"y":2.25,"v":0.01},{"x":-0.25,"y":2.25,"v":0.02},{"x":0,"y":2.25,"v":0.04},{"x":0.25,"y":2.25,"v":0.06},{"x":0.5,"y":2.25,"v":0.065},{"x":0.75,"y":2.25,"v":0.06},{"x":1,"y":2.25,"v":0.04},{"x":1.25,"y":2.25,"v":0.015},
{"x":-1.75,"y":2,"v":0.01},{"x":-1.5,"y":2,"v":0.02},{"x":-1.25,"y":2,"v":0.03},{"x":-1,"y":2,"v":0.03},{"x":-0.75,"y":2,"v":0.015},{"x":-0.25,"y":2,"v":0.03},{"x":0,"y":2,"v":0.055},{"x":0.25,"y":2,"v":0.075},{"x":0.5,"y":2,"v":0.085},{"x":0.75,"y":2,"v":0.075},{"x":1,"y":2,"v":0.05},{"x":1.25,"y":2,"v":0.02},
{"x":-2,"y":1.75,"v":0.01},{"x":-1.75,"y":1.75,"v":0.03},{"x":-1.5,"y":1.75,"v":0.05},{"x":-1.25,"y":1.75,"v":0.055},{"x":-1,"y":1.75,"v":0.055},{"x":-0.75,"y":1.75,"v":0.035},{"x":-0.5,"y":1.75,"v":0.015},{"x":-0.25,"y":1.75,"v":0.035},{"x":0,"y":1.75,"v":0.06},{"x":0.25,"y":1.75,"v":0.08},{"x":0.5,"y":1.75,"v":0.09},{"x":0.75,"y":1.75,"v":0.08},{"x":1,"y":1.75,"v":0.05},{"x":1.25,"y":1.75,"v":0.02},{"x":2,"y":1.75,"v":0.01},{"x":2.25,"y":1.75,"v":0.015},{"x":2.5,"y":1.75,"v":0.01},
{"x":-2,"y":1.5,"v":0.02},{"x":-1.75,"y":1.5,"v":0.045},{"x":-1.5,"y":1.5,"v":0.07},{"x":-1.25,"y":1.5,"v":0.08},{"x":-1,"y":1.5,"v":0.08},{"x":-0.75,"y":1.5,"v":0.055},{"x":-0.5,"y":1.5,"v":0.025},{"x":-0.25,"y":1.5,"v":0.035},{"x":0,"y":1.5,"v":0.055},{"x":0.25,"y":1.5,"v":0.075},{"x":0.5,"y":1.5,"v":0.085},{"x":0.75,"y":1.5,"v":0.07},{"x":1,"y":1.5,"v":0.04},{"x":1.25,"y":1.5,"v":0.015},{"x":1.75,"y":1.5,"v":0.01},{"x":2,"y":1.5,"v":0.02},{"x":2.25,"y":1.5,"v":0.025},{"x":2.5,"y":1.5,"v":0.02},{"x":2.75,"y":1.5,"v":0.01},
{"x":-2.25,"y":1.25,"v":0.01},{"x":-2,"y":1.25,"v":0.03},{"x":-1.75,"y":1.25,"v":0.06},{"x":-1.5,"y":1.25,"v":0.09},{"x":-1.25,"y":1.25,"v":0.105},{"x":-1,"y":1.25,"v":0.1},{"x":-0.75,"y":1.25,"v":0.07},{"x":-0.5,"y":1.25,"v":0.035},{"x":-0.25,"y":1.25,"v":0.025},{"x":0,"y":1.25,"v":0.04},{"x":0.25,"y":1.25,"v":0.055},{"x":0.5,"y":1.25,"v":0.06},{"x":0.75,"y":1.25,"v":0.045},{"x":1,"y":1.25,"v":0.02},{"x":1.25,"y":1.25,"v":0.01},{"x":1.5,"y":1.25,"v":0.01},{"x":1.75,"y":1.25,"v":0.02},{"x":2,"y":1.25,"v":0.03},{"x":2.25,"y":1.25,"v":0.035},{"x":2.5,"y":1.25,"v":0.03},{"x":2.75,"y":1.25,"v":0.015},
{"x":-2.25,"y":1,"v":0.012},{"x":-2,"y":1,"v":0.035},{"x":-1.75,"y":1,"v":0.065},{"x":-1.5,"y":1,"v":0.095},{"x":-1.25,"y":1,"v":0.11},{"x":-1,"y":1,"v":0.105},{"x":-0.75,"y":1,"v":0.07},{"x":-0.5,"y":1,"v":0.04},{"x":-0.25,"y":1,"v":0.03},{"x":0,"y":1,"v":0.035},{"x":0.25,"y":1,"v":0.04},{"x":0.5,"y":1,"v":0.04},{"x":0.75,"y":1,"v":0.025},{"x":1,"y":1,"v":0.01},{"x":1.25,"y":1,"v":0.008},{"x":1.5,"y":1,"v":0.015},{"x":1.75,"y":1,"v":0.025},{"x":2,"y":1,"v":0.035},{"x":2.25,"y":1,"v":0.038},{"x":2.5,"y":1,"v":0.03},{"x":2.75,"y":1,"v":0.015},
{"x":-2.25,"y":0.75,"v":0.015},{"x":-2,"y":0.75,"v":0.035},{"x":-1.75,"y":0.75,"v":0.06},{"x":-1.5,"y":0.75,"v":0.08},{"x":-1.25,"y":0.75,"v":0.09},{"x":-1,"y":0.75,"v":0.085},{"x":-0.75,"y":0.75,"v":0.06},{"x":0.75,"y":0.75,"v":0.02},{"x":1,"y":0.75,"v":0.012},{"x":1.25,"y":0.75,"v":0.012},{"x":1.5,"y":0.75,"v":0.02},{"x":1.75,"y":0.75,"v":0.03},{"x":2,"y":0.75,"v":0.035},{"x":2.25,"y":0.75,"v":0.035},{"x":2.5,"y":0.75,"v":0.025},{"x":2.75,"y":0.75,"v":0.012},
{"x":-2.25,"y":0.5,"v":0.018},{"x":-2,"y":0.5,"v":0.035},{"x":-1.75,"y":0.5,"v":0.05},{"x":-1.5,"y":0.5,"v":0.06},{"x":-1.25,"y":0.5,"v":0.06},{"x":-1,"y":0.5,"v":0.055},{"x":1,"y":0.5,"v":0.035},{"x":1.25,"y":0.5,"v":0.02},{"x":1.5,"y":0.5,"v":0.028},{"x":1.75,"y":0.5,"v":0.035},{"x":2,"y":0.5,"v":0.035},{"x":2.25,"y":0.5,"v":0.03},{"x":2.5,"y":0.5,"v":0.02},{"x":2.75,"y":0.5,"v":0.008},
{"x":-2.25,"y":0.25,"v":0.018},{"x":-2,"y":0.25,"v":0.03},{"x":-1.75,"y":0.25,"v":0.04},{"x":-1.5,"y":0.25,"v":0.045},{"x":-1.25,"y":0.25,"v":0.045},{"x":-1,"y":0.25,"v":0.06},{"x":1,"y":0.25,"v":0.05},{"x":1.25,"y":0.25,"v":0.03},{"x":1.5,"y":0.25,"v":0.036},{"x":1.75,"y":0.25,"v":0.038},{"x":2,"y":0.25,"v":0.03},{"x":2.25,"y":0.25,"v":0.02},{"x":2.5,"y":0.25,"v":0.01},
{"x":-2.25,"y":0,"v":0.015},{"x":-2,"y":0,"v":0.03},{"x":-1.75,"y":0,"v":0.04},{"x":-1.5,"y":0,"v":0.04},{"x":-1.25,"y":0,"v":0.045},{"x":-1,"y":0,"v":0.065},{"x":1,"y":0,"v":0.055},{"x":1.25,"y":0,"v":0.033},{"x":1.5,"y":0,"v":0.04},{"x":1.75,"y":0,"v":0.04},{"x":2,"y":0,"v":0.03},{"x":2.25,"y":0,"v":0.015},{"x":2.5,"y":0,"v":0.006},
{"x":-2.25,"y":-0.25,"v":0.018},{"x":-2,"y":-0.25,"v":0.03},{"x":-1.75,"y":-0.25,"v":0.04},{"x":-1.5,"y":-0.25,"v":0.045},{"x":-1.25,"y":-0.25,"v":0.045},{"x":-1,"y":-0.25,"v":0.06},{"x":1,"y":-0.25,"v":0.05},{"x":1.25,"y":-0.25,"v":0.03},{"x":1.5,"y":-0.25,"v":0.036},{"x":1.75,"y":-0.25,"v":0.038},{"x":2,"y":-0.25,"v":0.03},{"x":2.25,"y":-0.25,"v":0.02},{"x":2.5,"y":-0.25,"v":0.01},
{"x":-2.25,"y":-0.5,"v":0.018},{"x":-2,"y":-0.5,"v":0.035},{"x":-1.75,"y":-0.5,"v":0.05},{"x":-1.5,"y":-0.5,"v":0.06},{"x":-1.25,"y":-0.5,"v":0.06},{"x":-1,"y":-0.5,"v":0.055},{"x":1,"y":-0.5,"v":0.035},{"x":1.25,"y":-0.5,"v":0.02},{"x":1.5,"y":-0.5,"v":0.028},{"x":1.75,"y":-0.5,"v":0.035},{"x":2,"y":-0.5,"v":0.035},{"x":2.25,"y":-0.5,"v":0.03},{"x":2.5,"y":-0.5,"v":0.02},{"x":2.75,"y":-0.5,"v":0.008},
{"x":-2.25,"y":-0.75,"v":0.015},{"x":-2,"y":-0.75,"v":0.035},{"x":-1.75,"y":-0.75,"v":0.055},{"x":-1.5,"y":-0.75,"v":0.075},{"x":-1.25,"y":-0.75,"v":0.085},{"x":-1,"y":-0.75,"v":0.08},{"x":-0.75,"y":-0.75,"v":0.06},{"x":0.75,"y":-0.75,"v":0.02},{"x":1,"y":-0.75,"v":0.012},{"x":1.25,"y":-0.75,"v":0.012},{"x":1.5,"y":-0.75,"v":0.02},{"x":1.75,"y":-0.75,"v":0.028},{"x":2,"y":-0.75,"v":0.032},{"x":2.25,"y":-0.75,"v":0.032},{"x":2.5,"y":-0.75,"v":0.022},{"x":2.75,"y":-0.75,"v":0.01},
{"x":-2.25,"y":-1,"v":0.012},{"x":-2,"y":-1,"v":0.032},{"x":-1.75,"y":-1,"v":0.06},{"x":-1.5,"y":-1,"v":0.085},{"x":-1.25,"y":-1,"v":0.1},{"x":-1,"y":-1,"v":0.095},{"x":-0.75,"y":-1,"v":0.065},{"x":-0.5,"y":-1,"v":0.04},{"x":-0.25,"y":-1,"v":0.03},{"x":0,"y":-1,"v":0.035},{"x":0.25,"y":-1,"v":0.038},{"x":0.5,"y":-1,"v":0.04},{"x":0.75,"y":-1,"v":0.025},{"x":1,"y":-1,"v":0.01},{"x":1.25,"y":-1,"v":0.008},{"x":1.5,"y":-1,"v":0.015},{"x":1.75,"y":-1,"v":0.022},{"x":2,"y":-1,"v":0.03},{"x":2.25,"y":-1,"v":0.033},{"x":2.5,"y":-1,"v":0.027},{"x":2.75,"y":-1,"v":0.013},
{"x":-2.25,"y":-1.25,"v":0.01},{"x":-2,"y":-1.25,"v":0.028},{"x":-1.75,"y":-1.25,"v":0.055},{"x":-1.5,"y":-1.25,"v":0.08},{"x":-1.25,"y":-1.25,"v":0.095},{"x":-1,"y":-1.25,"v":0.09},{"x":-0.75,"y":-1.25,"v":0.065},{"x":-0.5,"y":-1.25,"v":0.035},{"x":-0.25,"y":-1.25,"v":0.025},{"x":0,"y":-1.25,"v":0.035},{"x":0.25,"y":-1.25,"v":0.05},{"x":0.5,"y":-1.25,"v":0.055},{"x":0.75,"y":-1.25,"v":0.04},{"x":1,"y":-1.25,"v":0.02},{"x":1.25,"y":-1.25,"v":0.01},{"x":1.5,"y":-1.25,"v":0.01},{"x":1.75,"y":-1.25,"v":0.018},{"x":2,"y":-1.25,"v":0.026},{"x":2.25,"y":-1.25,"v":0.03},{"x":2.5,"y":-1.25,"v":0.025},{"x":2.75,"y":-1.25,"v":0.012},
{"x":-2,"y":-1.5,"v":0.018},{"x":-1.75,"y":-1.5,"v":0.04},{"x":-1.5,"y":-1.5,"v":0.06},{"x":-1.25,"y":-1.5,"v":0.07},{"x":-1,"y":-1.5,"v":0.07},{"x":-0.75,"y":-1.5,"v":0.05},{"x":-0.5,"y":-1.5,"v":0.025},{"x":-0.25,"y":-1.5,"v":0.03},{"x":0,"y":-1.5,"v":0.05},{"x":0.25,"y":-1.5,"v":0.065},{"x":0.5,"y":-1.5,"v":0.075},{"x":0.75,"y":-1.5,"v":0.06},{"x":1,"y":-1.5,"v":0.035},{"x":1.25,"y":-1.5,"v":0.015},{"x":1.75,"y":-1.5,"v":0.008},{"x":2,"y":-1.5,"v":0.016},{"x":2.25,"y":-1.5,"v":0.02},{"x":2.5,"y":-1.5,"v":0.016},{"x":2.75,"y":-1.5,"v":0.008},
{"x":-2,"y":-1.75,"v":0.01},{"x":-1.75,"y":-1.75,"v":0.025},{"x":-1.5,"y":-1.75,"v":0.04},{"x":-1.25,"y":-1.75,"v":0.045},{"x":-1,"y":-1.75,"v":0.045},{"x":-0.75,"y":-1.75,"v":0.03},{"x":-0.5,"y":-1.75,"v":0.015},{"x":-0.25,"y":-1.75,"v":0.03},{"x":0,"y":-1.75,"v":0.05},{"x":0.25,"y":-1.75,"v":0.07},{"x":0.5,"y":-1.75,"v":0.08},{"x":0.75,"y":-1.75,"v":0.07},{"x":1,"y":-1.75,"v":0.045},{"x":1.25,"y":-1.75,"v":0.018},{"x":2,"y":-1.75,"v":0.008},{"x":2.25,"y":-1.75,"v":0.012},{"x":2.5,"y":-1.75,"v":0.008},
{"x":-1.5,"y":-2,"v":0.015},{"x":-1.25,"y":-2,"v":0.022},{"x":-1,"y":-2,"v":0.022},{"x":-0.75,"y":-2,"v":0.012},{"x":-0.25,"y":-2,"v":0.025},{"x":0,"y":-2,"v":0.045},{"x":0.25,"y":-2,"v":0.065},{"x":0.5,"y":-2,"v":0.07},{"x":0.75,"y":-2,"v":0.065},{"x":1,"y":-2,"v":0.04},{"x":1.25,"y":-2,"v":0.016},
{"x":-0.25,"y":-2.25,"v":0.015},{"x":0,"y":-2.25,"v":0.03},{"x":0.25,"y":-2.25,"v":0.05},{"x":0.5,"y":-2.25,"v":0.055},{"x":0.75,"y":-2.25,"v":0.05},{"x":1,"y":-2.25,"v":0.03},{"x":1.25,"y":-2.25,"v":0.012},
{"x":0,"y":-2.5,"v":0.02},{"x":0.25,"y":-2.5,"v":0.03},{"x":0.5,"y":-2.5,"v":0.035},{"x":0.75,"y":-2.5,"v":0.03},{"x":1,"y":-2.5,"v":0.015},
{"x":0.25,"y":-2.75,"v":0.015},{"x":0.5,"y":-2.75,"v":0.018},{"x":0.75,"y":-2.75,"v":0.012}],
"contours":[
{"c":"outer","i":1,"x":-2.11,"y":0.06,"v":0.09},{"c":"outer","i":2,"x":-2,"y":0.5,"v":0.09},{"c":"outer","i":3,"x":-1.8,"y":1.08,"v":0.09},{"c":"outer","i":4,"x":-1.67,"y":1.52,"v":0.09},{"c":"outer","i":5,"x":-1.33,"y":1.74,"v":0.09},{"c":"outer","i":6,"x":-0.93,"y":1.82,"v":0.09},{"c":"outer","i":7,"x":-0.6,"y":1.67,"v":0.09},{"c":"outer","i":8,"x":-0.33,"y":1.3,"v":0.09},{"c":"outer","i":9,"x":-0.13,"y":1.45,"v":0.09},{"c":"outer","i":10,"x":-0.07,"y":1.82,"v":0.09},{"c":"outer","i":11,"x":0.13,"y":2.14,"v":0.09},{"c":"outer","i":12,"x":0.53,"y":2.26,"v":0.09},{"c":"outer","i":13,"x":0.93,"y":2.11,"v":0.09},{"c":"outer","i":14,"x":1.16,"y":1.67,"v":0.09},{"c":"outer","i":15,"x":1,"y":1.23,"v":0.09},{"c":"outer","i":16,"x":0.69,"y":1.08,"v":0.09},{"c":"outer","i":17,"x":0.8,"y":0.79,"v":0.09},{"c":"outer","i":18,"x":1.13,"y":0.57,"v":0.09},{"c":"outer","i":19,"x":1.53,"y":0.53,"v":0.09},{"c":"outer","i":20,"x":2,"y":0.5,"v":0.09},{"c":"outer","i":21,"x":2.16,"y":0.06,"v":0.09},{"c":"outer","i":22,"x":2,"y":-0.45,"v":0.09},{"c":"outer","i":23,"x":1.53,"y":-0.53,"v":0.09},{"c":"outer","i":24,"x":1.13,"y":-0.53,"v":0.09},{"c":"outer","i":25,"x":0.87,"y":-0.82,"v":0.09},{"c":"outer","i":26,"x":0.73,"y":-1.11,"v":0.09},{"c":"outer","i":27,"x":1.07,"y":-1.33,"v":0.09},{"c":"outer","i":28,"x":1.16,"y":-1.77,"v":0.09},{"c":"outer","i":29,"x":0.93,"y":-2.14,"v":0.09},{"c":"outer","i":30,"x":0.47,"y":-2.31,"v":0.09},{"c":"outer","i":31,"x":0.07,"y":-2.14,"v":0.09},{"c":"outer","i":32,"x":-0.13,"y":-1.7,"v":0.09},{"c":"outer","i":33,"x":-0.24,"y":-1.29,"v":0.09},{"c":"outer","i":34,"x":-0.53,"y":-1.55,"v":0.09},{"c":"outer","i":35,"x":-0.93,"y":-1.7,"v":0.09},{"c":"outer","i":36,"x":-1.4,"y":-1.63,"v":0.09},{"c":"outer","i":37,"x":-1.67,"y":-1.33,"v":0.09},{"c":"outer","i":38,"x":-1.84,"y":-0.89,"v":0.09},{"c":"outer","i":39,"x":-2,"y":-0.38,"v":0.09},
{"c":"inner","i":1,"x":-1.49,"y":0.5,"v":0.095},{"c":"inner","i":2,"x":-1,"y":0.35,"v":0.095},{"c":"inner","i":3,"x":-1.07,"y":-0.02,"v":0.095},{"c":"inner","i":4,"x":-1,"y":-0.45,"v":0.095},{"c":"inner","i":5,"x":-1.47,"y":-0.48,"v":0.095},{"c":"inner","i":6,"x":-1.57,"y":-0.89,"v":0.095},{"c":"inner","i":7,"x":-1.4,"y":-1.26,"v":0.095},{"c":"inner","i":8,"x":-1.07,"y":-1.44,"v":0.095},{"c":"inner","i":9,"x":-0.73,"y":-1.26,"v":0.095},{"c":"inner","i":10,"x":-0.53,"y":-1,"v":0.095},{"c":"inner","i":11,"x":0,"y":-1.08,"v":0.095},{"c":"inner","i":12,"x":0.53,"y":-1,"v":0.095},{"c":"inner","i":13,"x":0.93,"y":-0.6,"v":0.095},{"c":"inner","i":14,"x":1.09,"y":-0.02,"v":0.095},{"c":"inner","i":15,"x":0.93,"y":0.57,"v":0.095},{"c":"inner","i":16,"x":0.53,"y":0.94,"v":0.095},{"c":"inner","i":17,"x":0,"y":1.08,"v":0.095},{"c":"inner","i":18,"x":-0.53,"y":0.94,"v":0.095},{"c":"inner","i":19,"x":-0.73,"y":1.16,"v":0.095},{"c":"inner","i":20,"x":-0.93,"y":1.45,"v":0.095},{"c":"inner","i":21,"x":-1.2,"y":1.48,"v":0.095},{"c":"inner","i":22,"x":-1.47,"y":1.23,"v":0.095},{"c":"inner","i":23,"x":-1.57,"y":0.79,"v":0.095},
{"c":"top","i":1,"x":0.83,"y":1.6,"v":0.095},{"c":"top","i":2,"x":0.73,"y":1.83,"v":0.095},{"c":"top","i":3,"x":0.5,"y":1.92,"v":0.095},{"c":"top","i":4,"x":0.27,"y":1.83,"v":0.095},{"c":"top","i":5,"x":0.17,"y":1.6,"v":0.095},{"c":"top","i":6,"x":0.27,"y":1.37,"v":0.095},{"c":"top","i":7,"x":0.5,"y":1.28,"v":0.095},{"c":"top","i":8,"x":0.73,"y":1.37,"v":0.095},
{"c":"bottom","i":1,"x":0.83,"y":-1.58,"v":0.095},{"c":"bottom","i":2,"x":0.73,"y":-1.35,"v":0.095},{"c":"bottom","i":3,"x":0.5,"y":-1.26,"v":0.095},{"c":"bottom","i":4,"x":0.27,"y":-1.35,"v":0.095},{"c":"bottom","i":5,"x":0.17,"y":-1.58,"v":0.095},{"c":"bottom","i":6,"x":0.27,"y":-1.81,"v":0.095},{"c":"bottom","i":7,"x":0.5,"y":-1.9,"v":0.095},{"c":"bottom","i":8,"x":0.73,"y":-1.81,"v":0.095},
{"c":"r01","i":1,"x":0.93,"y":0,"v":0.1},{"c":"r01","i":2,"x":0.66,"y":0.66,"v":0.1},{"c":"r01","i":3,"x":0,"y":0.93,"v":0.1},{"c":"r01","i":4,"x":-0.66,"y":0.66,"v":0.1},{"c":"r01","i":5,"x":-0.93,"y":0,"v":0.1},{"c":"r01","i":6,"x":-0.66,"y":-0.66,"v":0.1},{"c":"r01","i":7,"x":0,"y":-0.93,"v":0.1},{"c":"r01","i":8,"x":0.66,"y":-0.66,"v":0.1},
{"c":"r02","i":1,"x":0.85,"y":0,"v":0.12},{"c":"r02","i":2,"x":0.6,"y":0.6,"v":0.12},{"c":"r02","i":3,"x":0,"y":0.85,"v":0.12},{"c":"r02","i":4,"x":-0.6,"y":0.6,"v":0.12},{"c":"r02","i":5,"x":-0.85,"y":0,"v":0.12},{"c":"r02","i":6,"x":-0.6,"y":-0.6,"v":0.12},{"c":"r02","i":7,"x":0,"y":-0.85,"v":0.12},{"c":"r02","i":8,"x":0.6,"y":-0.6,"v":0.12},
{"c":"r03","i":1,"x":0.78,"y":0,"v":0.16},{"c":"r03","i":2,"x":0.55,"y":0.55,"v":0.16},{"c":"r03","i":3,"x":0,"y":0.78,"v":0.16},{"c":"r03","i":4,"x":-0.55,"y":0.55,"v":0.16},{"c":"r03","i":5,"x":-0.78,"y":0,"v":0.16},{"c":"r03","i":6,"x":-0.55,"y":-0.55,"v":0.16},{"c":"r03","i":7,"x":0,"y":-0.78,"v":0.16},{"c":"r03","i":8,"x":0.55,"y":-0.55,"v":0.16},
{"c":"r04","i":1,"x":0.72,"y":0,"v":0.22},{"c":"r04","i":2,"x":0.51,"y":0.51,"v":0.22},{"c":"r04","i":3,"x":0,"y":0.72,"v":0.22},{"c":"r04","i":4,"x":-0.51,"y":0.51,"v":0.22},{"c":"r04","i":5,"x":-0.72,"y":0,"v":0.22},{"c":"r04","i":6,"x":-0.51,"y":-0.51,"v":0.22},{"c":"r04","i":7,"x":0,"y":-0.72,"v":0.22},{"c":"r04","i":8,"x":0.51,"y":-0.51,"v":0.22},
{"c":"r05","i":1,"x":0.67,"y":0,"v":0.28},{"c":"r05","i":2,"x":0.476,"y":0.476,"v":0.28},{"c":"r05","i":3,"x":0,"y":0.67,"v":0.28},{"c":"r05","i":4,"x":-0.476,"y":0.476,"v":0.28},{"c":"r05","i":5,"x":-0.67,"y":0,"v":0.28},{"c":"r05","i":6,"x":-0.476,"y":-0.476,"v":0.28},{"c":"r05","i":7,"x":0,"y":-0.67,"v":0.28},{"c":"r05","i":8,"x":0.476,"y":-0.476,"v":0.28},
{"c":"r06","i":1,"x":0.61,"y":0,"v":0.34},{"c":"r06","i":2,"x":0.433,"y":0.433,"v":0.34},{"c":"r06","i":3,"x":0,"y":0.61,"v":0.34},{"c":"r06","i":4,"x":-0.433,"y":0.433,"v":0.34},{"c":"r06","i":5,"x":-0.61,"y":0,"v":0.34},{"c":"r06","i":6,"x":-0.433,"y":-0.433,"v":0.34},{"c":"r06","i":7,"x":0,"y":-0.61,"v":0.34},{"c":"r06","i":8,"x":0.433,"y":-0.433,"v":0.34},
{"c":"r07","i":1,"x":0.557,"y":0,"v":0.4},{"c":"r07","i":2,"x":0.394,"y":0.394,"v":0.4},{"c":"r07","i":3,"x":0,"y":0.557,"v":0.4},{"c":"r07","i":4,"x":-0.394,"y":0.394,"v":0.4},{"c":"r07","i":5,"x":-0.557,"y":0,"v":0.4},{"c":"r07","i":6,"x":-0.394,"y":-0.394,"v":0.4},{"c":"r07","i":7,"x":0,"y":-0.557,"v":0.4},{"c":"r07","i":8,"x":0.394,"y":-0.394,"v":0.4},
{"c":"r08","i":1,"x":0.505,"y":0,"v":0.46},{"c":"r08","i":2,"x":0.357,"y":0.357,"v":0.46},{"c":"r08","i":3,"x":0,"y":0.505,"v":0.46},{"c":"r08","i":4,"x":-0.357,"y":0.357,"v":0.46},{"c":"r08","i":5,"x":-0.505,"y":0,"v":0.46},{"c":"r08","i":6,"x":-0.357,"y":-0.357,"v":0.46},{"c":"r08","i":7,"x":0,"y":-0.505,"v":0.46},{"c":"r08","i":8,"x":0.357,"y":-0.357,"v":0.46},
{"c":"r09","i":1,"x":0.454,"y":0,"v":0.52},{"c":"r09","i":2,"x":0.321,"y":0.321,"v":0.52},{"c":"r09","i":3,"x":0,"y":0.454,"v":0.52},{"c":"r09","i":4,"x":-0.321,"y":0.321,"v":0.52},{"c":"r09","i":5,"x":-0.454,"y":0,"v":0.52},{"c":"r09","i":6,"x":-0.321,"y":-0.321,"v":0.52},{"c":"r09","i":7,"x":0,"y":-0.454,"v":0.52},{"c":"r09","i":8,"x":0.321,"y":-0.321,"v":0.52},
{"c":"r10","i":1,"x":0.403,"y":0,"v":0.58},{"c":"r10","i":2,"x":0.285,"y":0.285,"v":0.58},{"c":"r10","i":3,"x":0,"y":0.403,"v":0.58},{"c":"r10","i":4,"x":-0.285,"y":0.285,"v":0.58},{"c":"r10","i":5,"x":-0.403,"y":0,"v":0.58},{"c":"r10","i":6,"x":-0.285,"y":-0.285,"v":0.58},{"c":"r10","i":7,"x":0,"y":-0.403,"v":0.58},{"c":"r10","i":8,"x":0.285,"y":-0.285,"v":0.58},
{"c":"r11","i":1,"x":0.35,"y":0,"v":0.64},{"c":"r11","i":2,"x":0.247,"y":0.247,"v":0.64},{"c":"r11","i":3,"x":0,"y":0.35,"v":0.64},{"c":"r11","i":4,"x":-0.247,"y":0.247,"v":0.64},{"c":"r11","i":5,"x":-0.35,"y":0,"v":0.64},{"c":"r11","i":6,"x":-0.247,"y":-0.247,"v":0.64},{"c":"r11","i":7,"x":0,"y":-0.35,"v":0.64},{"c":"r11","i":8,"x":0.247,"y":-0.247,"v":0.64},
{"c":"r12","i":1,"x":0.295,"y":0,"v":0.7},{"c":"r12","i":2,"x":0.209,"y":0.209,"v":0.7},{"c":"r12","i":3,"x":0,"y":0.295,"v":0.7},{"c":"r12","i":4,"x":-0.209,"y":0.209,"v":0.7},{"c":"r12","i":5,"x":-0.295,"y":0,"v":0.7},{"c":"r12","i":6,"x":-0.209,"y":-0.209,"v":0.7},{"c":"r12","i":7,"x":0,"y":-0.295,"v":0.7},{"c":"r12","i":8,"x":0.209,"y":-0.209,"v":0.7},
{"c":"r13","i":1,"x":0.232,"y":0,"v":0.76},{"c":"r13","i":2,"x":0.164,"y":0.164,"v":0.76},{"c":"r13","i":3,"x":0,"y":0.232,"v":0.76},{"c":"r13","i":4,"x":-0.164,"y":0.164,"v":0.76},{"c":"r13","i":5,"x":-0.232,"y":0,"v":0.76},{"c":"r13","i":6,"x":-0.164,"y":-0.164,"v":0.76},{"c":"r13","i":7,"x":0,"y":-0.232,"v":0.76},{"c":"r13","i":8,"x":0.164,"y":-0.164,"v":0.76},
{"c":"r14","i":1,"x":0.154,"y":0,"v":0.82},{"c":"r14","i":2,"x":0.109,"y":0.109,"v":0.82},{"c":"r14","i":3,"x":0,"y":0.154,"v":0.82},{"c":"r14","i":4,"x":-0.109,"y":0.109,"v":0.82},{"c":"r14","i":5,"x":-0.154,"y":0,"v":0.82},{"c":"r14","i":6,"x":-0.109,"y":-0.109,"v":0.82},{"c":"r14","i":7,"x":0,"y":-0.154,"v":0.82},{"c":"r14","i":8,"x":0.109,"y":-0.109,"v":0.82}]
},
"concat":[
{"title":"FFDP (Parallel)","width":198,"height":182,"view":{"fill":"#000086"},
"encoding":{"x":{"field":"x","type":"quantitative","scale":{"domain":[-4,4],"nice":false},"title":"East (arcsecond)"},"y":{"field":"y","type":"quantitative","scale":{"domain":[-4,4],"nice":false},"title":"North (arcsecond)"},"color":{"field":"v","type":"quantitative","scale":{"type":"linear","interpolate":"rgb","domain":[0,0.1085,0.3255,0.5425,0.7595,0.868],"range":["#00007f","#0000ff","#00ffff","#ffff00","#ff0000","#7f0000"]},"legend":{"values":[0.2,0.4,0.6,0.8]}}},
"layer":[{"data":{"name":"parallelOuter"},"mark":{"type":"rect","width":13,"height":12}},{"data":{"name":"core"},"mark":{"type":"rect","width":3.6,"height":3.3}}]},
{"title":"FFDP (Orthogonal)","width":200,"height":182,"view":{"fill":"#000090"},
"encoding":{"x":{"field":"x","type":"quantitative","scale":{"domain":[-4,4],"nice":false},"title":"East (arcsecond)"},"y":{"field":"y","type":"quantitative","scale":{"domain":[-4,4],"nice":false},"title":"North (arcsecond)"},"color":{"field":"v","type":"quantitative","scale":{"type":"linear","interpolate":"rgb","domain":[0.001,0.0139,0.0396,0.0653,0.0909,0.1038],"range":["#00007f","#0000ff","#00ffff","#ffff00","#ff0000","#7f0000"]},"legend":{"values":[0.02,0.04,0.06,0.08,0.1],"format":".2~f"}}},
"layer":[{"data":{"name":"orthFaint"},"mark":{"type":"rect","width":13,"height":12,"clip":true}},{"data":{"name":"orth"},"mark":{"type":"rect","width":6.6,"height":6}}]},
{"title":"FFDP (Total)","width":198,"height":182,"view":{"fill":"#000086"},
"encoding":{"x":{"field":"x","type":"quantitative","scale":{"domain":[-4,4],"nice":false},"title":"East (arcsecond)"},"y":{"field":"y","type":"quantitative","scale":{"domain":[-4,4],"nice":false},"title":"North (arcsecond)"},"color":{"field":"v","type":"quantitative","scale":{"type":"linear","interpolate":"rgb","domain":[0,0.1085,0.3255,0.5425,0.7595,0.868],"range":["#00007f","#0000ff","#00ffff","#ffff00","#ff0000","#7f0000"]},"legend":{"values":[0.2,0.4,0.6,0.8]}}},
"layer":[{"data":{"name":"totalOuter"},"mark":{"type":"rect","width":6.6,"height":6}},{"data":{"name":"core"},"mark":{"type":"rect","width":3.6,"height":3.3}}]},
{"title":"FFDP Contours (Total)","width":200,"height":182,"view":{"stroke":"#333333","strokeWidth":1},
"data":{"name":"contours"},
"encoding":{"x":{"field":"x","type":"quantitative","scale":{"domain":[-4,4],"nice":false},"title":"East (arcsecond)"},"y":{"field":"y","type":"quantitative","scale":{"domain":[-4,4],"nice":false},"title":"North (arcsecond)"},"detail":{"field":"c"},"order":{"field":"i"},"color":{"field":"v","type":"quantitative","scale":{"type":"linear","interpolate":"rgb","domain":[0.042,0.14,0.336,0.532,0.728,0.826],"range":["#00007f","#0000ff","#00ffff","#ffff00","#ff0000","#7f0000"]},"legend":{"values":[0.2,0.4,0.6,0.8]}}},
"layer":[{"transform":[{"filter":"datum.v<0.1"}],"mark":{"type":"line","interpolate":"cardinal-closed","strokeWidth":1.2}},{"transform":[{"filter":"datum.v>=0.1"}],"mark":{"type":"line","interpolate":"cardinal-closed","strokeWidth":2.4}}]}
],
"resolve":{"scale":{"color":"independent"}}}
